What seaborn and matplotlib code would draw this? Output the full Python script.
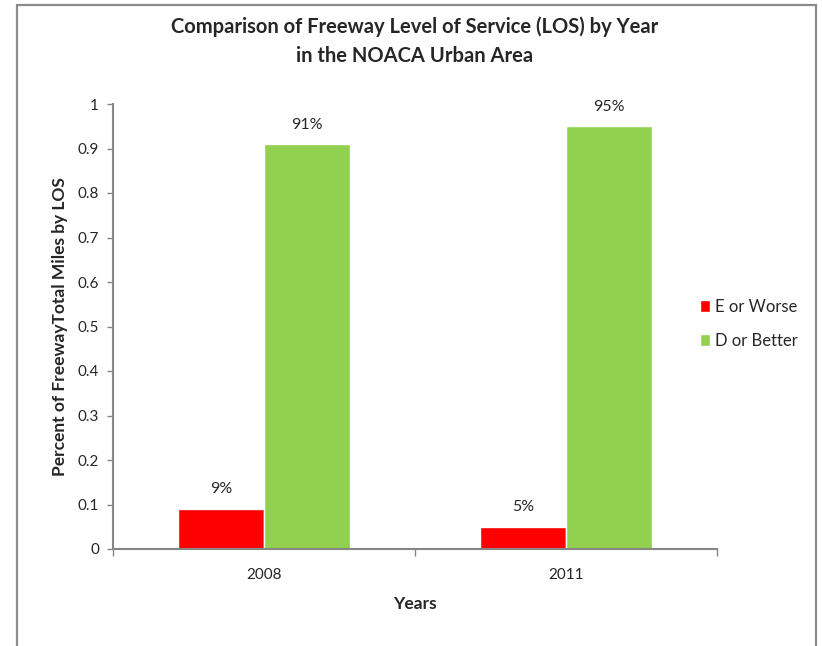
import matplotlib
matplotlib.use("Agg")
import matplotlib.pyplot as plt
import seaborn as sns
import pandas as pd
from matplotlib.patches import Rectangle

# data
years = ["2008", "2011"]
e_or_worse = [0.09, 0.05]
d_or_better = [0.91, 0.95]
series_names = ["E or Worse", "D or Better"]
colors = ["#ff0000", "#92d050"]

df = pd.DataFrame({
    "year": years * 2,
    "share": e_or_worse + d_or_better,
    "los": [series_names[0]] * 2 + [series_names[1]] * 2,
})

sns.set_style("white")
plt.rcParams["font.family"] = ["Lato", "DejaVu Sans"]

fig = plt.figure(figsize=(8.22, 6.46), dpi=100)
ax = fig.add_axes([113 / 822, 1 - 549 / 646, (717 - 113) / 822, (549 - 104) / 646])

sns.barplot(data=df, x="year", y="share", hue="los", palette=colors,
            width=0.57, saturation=1, ax=ax, legend=True)

# percent labels above bars
for cont in ax.containers:
    ax.bar_label(cont, labels=[f"{v * 100:.0f}%" for v in cont.datavalues],
                 padding=9, fontsize=11.5)

ax.set_ylim(0, 1)
ax.set_xlim(-0.5, 1.5)
ax.set_yticks([i / 10 for i in range(11)])
ax.set_yticklabels(["0", "0.1", "0.2", "0.3", "0.4", "0.5", "0.6", "0.7", "0.8", "0.9", "1"],
                   fontsize=11)
ax.tick_params(axis="x", labelsize=11, length=0, pad=14)
ax.tick_params(axis="y", length=4, width=1, color="#868686", left=True, pad=6)

# category boundary tick marks like excel
ax.set_xticks([-0.5, 0.5, 1.5], minor=True)
ax.tick_params(axis="x", which="minor", length=5, width=1, color="#868686", bottom=True)

for s in ["top", "right"]:
    ax.spines[s].set_visible(False)
for s in ["left", "bottom"]:
    ax.spines[s].set_color("#868686")
    ax.spines[s].set_linewidth(1.5)

ax.set_xlabel("Years", fontsize=12.5, fontweight="bold", labelpad=10)
ax.set_ylabel("Percent of FreewayTotal Miles by LOS", fontsize=12.5,
              fontweight="bold", labelpad=7)

fig.suptitle("Comparison of Freeway Level of Service (LOS) by Year\nin the NOACA Urban Area",
             x=415 / 822, y=1 - 16 / 646, fontsize=14.5, fontweight="bold",
             linespacing=1.6)

handles, labels = ax.get_legend_handles_labels()
ax.legend(handles, labels, loc="center left", bbox_to_anchor=(685 / 822, 1 - 324 / 646),
          bbox_transform=fig.transFigure, frameon=False, fontsize=12,
          handlelength=0.6, handleheight=0.7, handletextpad=0.3, labelspacing=1.1)

# outer chart border
fig.patches.append(Rectangle((17 / 822, -0.05), (816 - 17) / 822, 1.05 - 5 / 646,
                             transform=fig.transFigure, fill=False,
                             edgecolor="#8c8c8c", linewidth=1.6))

fig.savefig("out.png", dpi=100)
